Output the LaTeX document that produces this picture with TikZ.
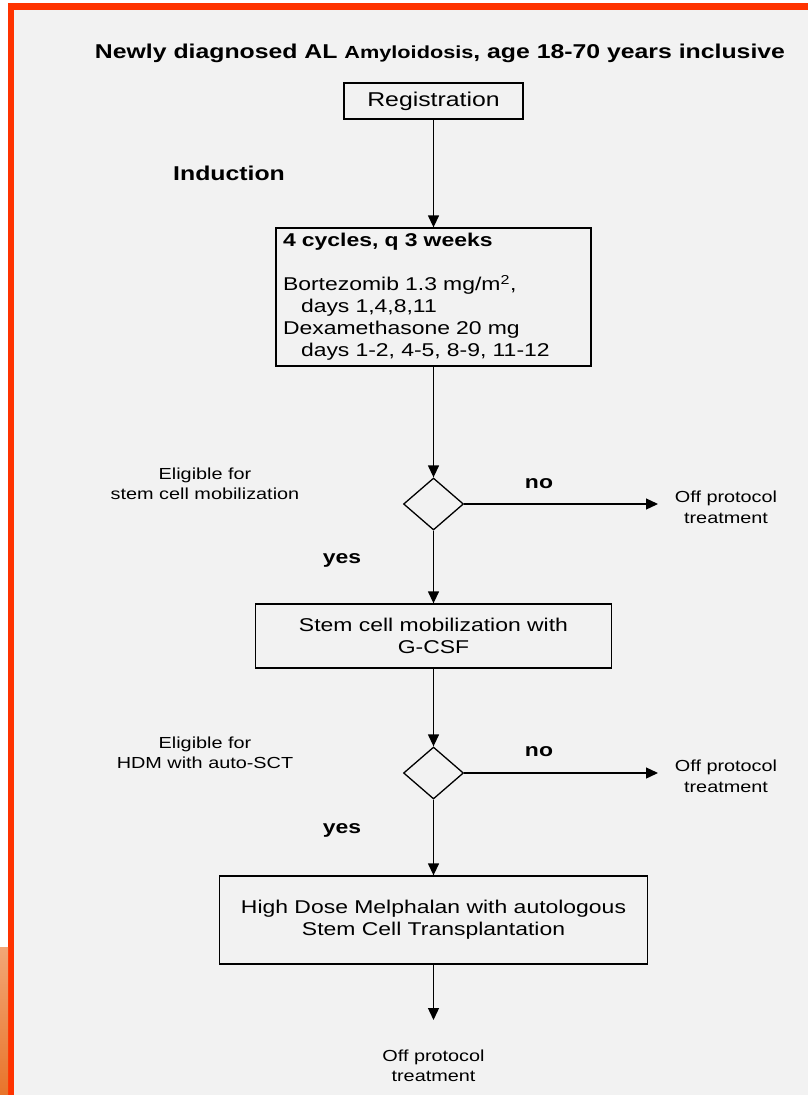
\documentclass[tikz,border=0pt]{standalone}
\usepackage{fontspec}
\setmainfont{Liberation Sans}[FakeStretch=1.24]
\usetikzlibrary{positioning,shapes.geometric,arrows.meta}
\definecolor{slidegray}{HTML}{F2F2F2}
\definecolor{slidered}{HTML}{FF3300}
\definecolor{slideorange}{HTML}{E8742A}
\definecolor{slidepeach}{HTML}{F2A676}
\tikzstyle{every node}+=[inner sep=0pt,font=\fontsize{18.5}{22}\selectfont]
\tikzstyle{every edge}+=[line width=1.3pt]
\tikzstyle{every path}+=[line width=1.3pt]
\tikzstyle{box}=[draw,align=center]
\tikzstyle{choice}=[diamond,draw,minimum width=60pt,minimum height=52pt]
\tikzstyle{smalltext}=[align=center,font=\fontsize{16}{20.5}\selectfont]
\tikzstyle{answer}=[font=\fontsize{18.5}{22}\selectfont\bfseries]
\newcommand{\drawarrows}[2][\empty]{
	\foreach \a/\b in {#2}{
		\draw[#1] (\a) edge (\b);
	}
}

\begin{document}
\begin{tikzpicture}[x=1pt,y=-1pt]

\useasboundingbox (0,0) rectangle (808,1095);
\fill[white] (0,0) rectangle (808,1095);
\fill[slidegray] (8,3) rectangle (808,1095);
\fill[slidered] (8,3) rectangle (808,9.5);
\fill[slidered] (8,3) rectangle (14,1095);
\shade[top color=slidepeach,bottom color=slideorange] (0,947) rectangle (8,1095);

\node[font=\fontsize{20}{24}\selectfont\bfseries] (title) at (440,53)
	{Newly diagnosed AL {\fontsize{17.5}{20}\selectfont Amyloidosis}, age 18-70 years inclusive};

\node[box,minimum width=179pt,minimum height=36pt,font=\fontsize{20}{24}\selectfont] (reg) at (433.5,101) {Registration};
\node[font=\fontsize{20}{24}\selectfont\bfseries] (induction) at (229,173) {Induction};

\node[box,align=left,text width=301pt,minimum width=315pt,minimum height=138pt] (ind) at (433.5,297)
	{\textbf{4 cycles, q 3 weeks}\\[22pt]
	Bortezomib 1.3 mg/m\textsuperscript{2},\\
	\hspace*{18pt}days 1,4,8,11\\
	Dexamethasone 20 mg\\
	\hspace*{18pt}days 1-2, 4-5, 8-9, 11-12};

\node[choice] (elig1) at (433.5,504) {};
\node[smalltext] (q1) at (205,484) {Eligible for\\stem cell mobilization};
\node[answer] (no1) at (539,484) {no};
\coordinate (stop1) at (658,504);
\node[smalltext] (off1) at (726,507.5) {Off protocol\\treatment};
\node[answer] (yes1) at (342,560) {yes};

\node[box,minimum width=356pt,minimum height=64pt] (mob) at (433.5,636) {Stem cell mobilization with\\G-CSF};

\node[choice] (elig2) at (433.5,773) {};
\node[smalltext] (q2) at (205,753) {Eligible for\\HDM with auto-SCT};
\node[answer] (no2) at (539,752) {no};
\coordinate (stop2) at (658,773);
\node[smalltext] (off2) at (726,776.5) {Off protocol\\treatment};
\node[answer] (yes2) at (342,830) {yes};

\node[box,minimum width=428pt,minimum height=88pt] (hdm) at (433.5,920)
	{High Dose Melphalan with autologous\\Stem Cell Transplantation};
\coordinate (stop3) at (433.5,1020);
\node[smalltext] (off3) at (433.5,1066) {Off protocol\\treatment};

\drawarrows[-{Triangle[length=12pt,width=11pt]}]{reg/ind,ind/elig1,elig1/stop1,elig1/mob,mob/elig2,elig2/stop2,elig2/hdm,hdm/stop3}

\end{tikzpicture}
\end{document}
